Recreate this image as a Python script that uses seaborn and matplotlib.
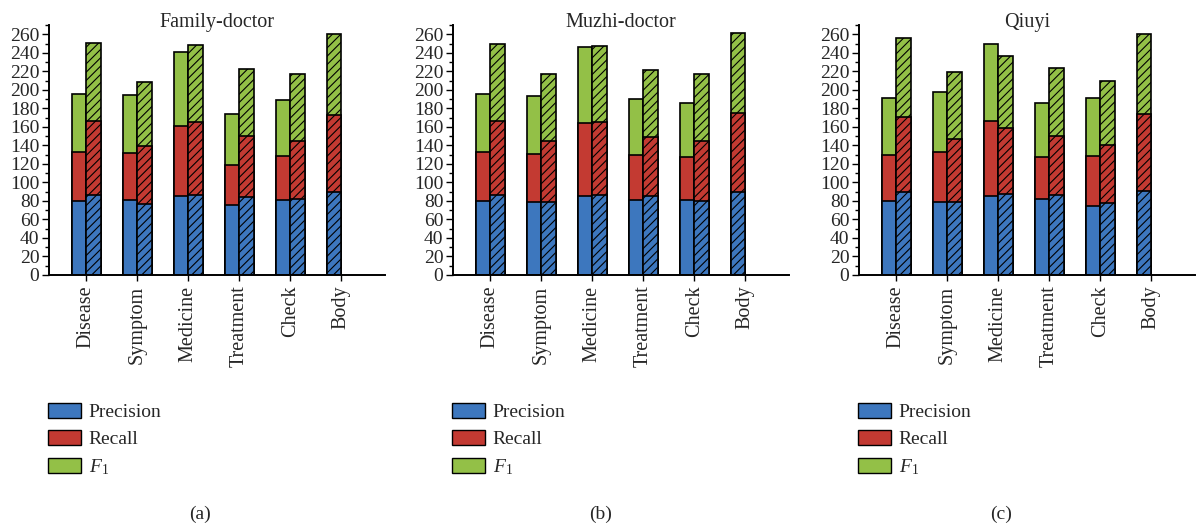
import pandas as pd
import seaborn as sns
import matplotlib.pyplot as plt
from matplotlib.patches import Patch
from matplotlib.ticker import MultipleLocator

categorie = ["Disease", "Symptom", "Medicine", "Treatment", "Check", "Body"]
titoli = ["Family-doctor", "Muzhi-doctor", "Qiuyi"]
lettere = ["(a)", "(b)", "(c)"]

# barre piene (modello base), Body non presente
base_p = [[80.0, 81.0, 85.3, 75.6, 81.0],
          [80.0, 78.9, 85.7, 81.0, 81.0],
          [80.3, 79.2, 85.7, 81.7, 74.2]]
base_r = [[52.5, 51.0, 76.0, 43.6, 47.6],
          [52.5, 52.1, 78.5, 48.6, 46.5],
          [49.3, 53.3, 80.3, 46.1, 54.4]]
base_f = [[63.5, 62.5, 80.0, 54.7, 60.1],
          [63.5, 62.4, 81.8, 60.5, 58.7],
          [61.3, 64.8, 83.2, 58.4, 62.3]]

# barre tratteggiate (modello proposto), tutte le categorie
our_p = [[86.4, 76.3, 86.4, 83.9, 82.1, 90.0],
         [86.4, 78.5, 86.4, 85.3, 79.6, 89.7],
         [89.3, 78.5, 87.1, 86.4, 77.8, 90.7]]
our_r = [[80.3, 63.4, 79.2, 65.9, 63.0, 83.2],
         [80.0, 66.6, 78.9, 63.4, 65.2, 84.9],
         [81.7, 68.4, 71.7, 63.8, 63.0, 83.2]]
our_f = [[83.9, 69.2, 82.5, 73.1, 71.7, 86.8],
         [82.8, 72.0, 82.4, 72.8, 72.0, 86.8],
         [84.7, 72.8, 78.1, 73.4, 69.1, 86.8]]

colori = {"p": "#3d77be", "r": "#c33a32", "f": "#93c047"}
etichette = ["Precision", "Recall", "$F_1$"]

sns.set_style("ticks")
plt.rcParams["font.family"] = ["Liberation Serif", "DejaVu Serif"]
plt.rcParams["mathtext.fontset"] = "custom"
plt.rcParams["mathtext.rm"] = "Liberation Serif"
plt.rcParams["mathtext.it"] = "Liberation Serif:italic"
plt.rcParams["hatch.linewidth"] = 0.8
plt.rcParams["hatch.color"] = "black"


def costruisci_df(k):
    righe = []
    for i, c in enumerate(categorie):
        if i < len(base_p[k]):
            righe.append(dict(cat=c, slot="left", hatched=False,
                              p=base_p[k][i], r=base_r[k][i], f=base_f[k][i]))
            slot = "right"
        else:
            # Body: solo la barra tratteggiata, nella posizione di sinistra
            slot = "left"
        righe.append(dict(cat=c, slot=slot, hatched=True,
                          p=our_p[k][i], r=our_r[k][i], f=our_f[k][i]))
    df = pd.DataFrame(righe)
    df["top_p"] = df["p"]
    df["top_r"] = df["p"] + df["r"]
    df["top_f"] = df["p"] + df["r"] + df["f"]
    return df


fig = plt.figure(figsize=(12.01, 5.26), dpi=100)
sinistre = [49, 453, 859]

for k in range(3):
    ax = fig.add_axes([sinistre[k] / 1201, 0.4772, 336 / 1201, 0.4753])
    df = costruisci_df(k)
    for strato in ["f", "r", "p"]:
        n0 = len(ax.containers)
        sns.barplot(data=df, x="cat", y="top_" + strato, hue="slot",
                    order=categorie, hue_order=["left", "right"],
                    palette=[colori[strato], colori[strato]], saturation=1,
                    dodge=True, width=0.57, gap=0, errorbar=None,
                    edgecolor="black", linewidth=1.2, legend=False, ax=ax)
        for cont, slot in zip(ax.containers[n0:], ["left", "right"]):
            sub = df[df["slot"] == slot].set_index("cat")
            for bar in cont:
                idx = int(round(bar.get_x() + bar.get_width() / 2))
                if sub.loc[categorie[idx], "hatched"]:
                    bar.set_hatch("////")

    ax.set_xlim(-0.73, 5.86)
    ax.set_ylim(0, 270)
    ax.yaxis.set_major_locator(MultipleLocator(20))
    ax.yaxis.set_minor_locator(MultipleLocator(10))
    ax.set_xlabel("")
    ax.set_ylabel("")
    ax.set_title(titoli[k], fontsize=14.5, y=0.992, pad=0)
    ax.tick_params(axis="x", labelsize=14.5, rotation=90, length=4, width=1, color="black")
    ax.tick_params(axis="y", which="major", labelsize=14, length=5, width=1, pad=2, color="black")
    ax.tick_params(axis="y", which="minor", length=3, width=1, color="black")
    for lab in ax.get_yticklabels():
        lab.set_fontsize(14)
    sns.despine(ax=ax)
    for s in ["left", "bottom"]:
        ax.spines[s].set_linewidth(1.4)
        ax.spines[s].set_color("black")

    maniglie = [Patch(facecolor=colori[s], edgecolor="black", linewidth=1.0)
                for s in ["p", "r", "f"]]
    fig.legend(maniglie, etichette, loc="upper left",
               bbox_to_anchor=((sinistre[k] - 1) / 1201, 1 - 403 / 526),
               frameon=False, fontsize=14, handlelength=1.7, handleheight=0.8,
               handletextpad=0.4, labelspacing=0.45, borderpad=0, borderaxespad=0)

    fig.text((2 * k + 1) / 6, 1 - 514 / 526, lettere[k], ha="center", va="center", fontsize=14)

fig.savefig("out.png", dpi=100)
